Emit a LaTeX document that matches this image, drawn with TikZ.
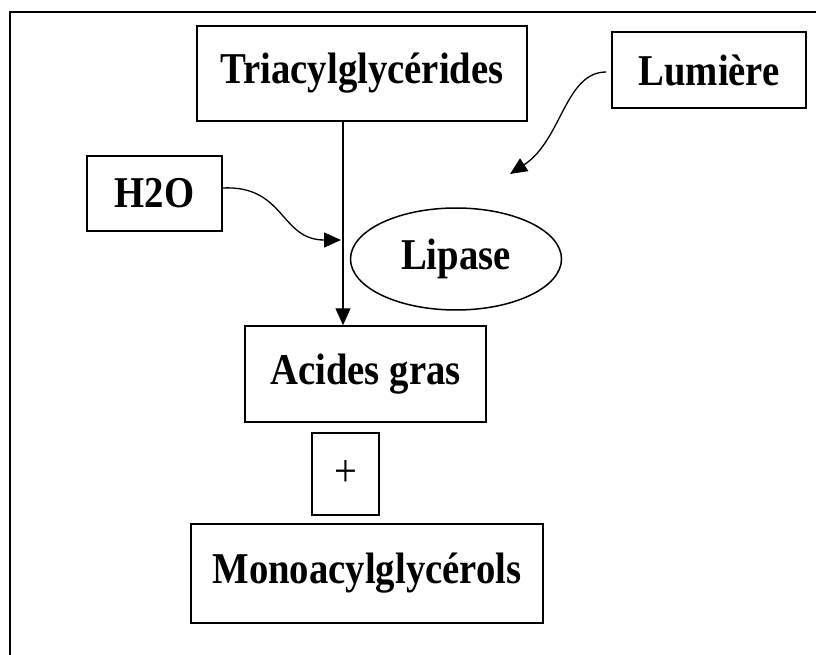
\documentclass[tikz,border=0pt]{standalone}
\usepackage{fontspec}
\setmainfont[FakeStretch=0.88]{Liberation Serif}
\usetikzlibrary{shapes.geometric,arrows.meta}
\begin{document}
\begin{tikzpicture}[x=1pt,y=-1pt,
  box/.style={draw, line width=1.5pt, inner sep=0pt, font=\fontsize{44}{48}\selectfont\bfseries},
  arr/.style={line width=1.3pt, -{Triangle[length=17pt,width=15pt]}}]
\useasboundingbox (0,0) rectangle (816,655);
\draw[line width=2.2pt] (10,655) -- (10,12) -- (816,12);
\node[box, minimum width=330pt, minimum height=95pt] (tri) at (362,73.5) {Triacylglycérides};
\node[box, minimum width=194pt, minimum height=76pt] (lum) at (709,70) {Lumière};
\node[box, minimum width=135pt, minimum height=75pt] (h2o) at (154.5,193.5) {H2O};
\node[box, ellipse, minimum width=211pt, minimum height=102pt] (lip) at (456,259) {Lipase};
\node[box, minimum width=241pt, minimum height=96pt] (ac) at (365.5,374) {Acides gras};
\node[box, minimum width=67pt, minimum height=82pt, font=\fontsize{46}{50}\selectfont] (plus) at (345.5,474) {\raisebox{-6pt}{+}};
\node[box, minimum width=352pt, minimum height=99pt] (mono) at (367,573.5) {Monoacylglycérols};
\coordinate (h2otip) at (341,240);
\coordinate (lumtip) at (510,174);
\draw[arr] ([xshift=-19pt]tri.south) -- ([xshift=-19pt]tri.south |- ac.north);
\draw[arr] ([yshift=5.5pt]h2o.east) .. controls (285,185) and (280,240) .. (h2otip);
\draw[arr] ([xshift=-5pt,yshift=-2pt]lum.west) .. controls (565,72) and (562,140) .. (lumtip);
\end{tikzpicture}
\end{document}
